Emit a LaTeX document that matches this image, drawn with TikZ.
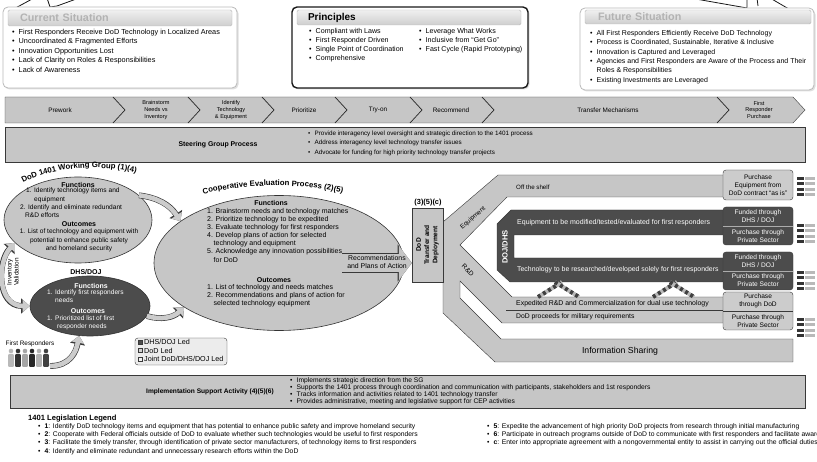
\documentclass[tikz,border=0pt]{standalone}
\usepackage{fontspec}
\setmainfont{Liberation Sans}
\usepackage{tikz}
\usetikzlibrary{shapes.geometric}
\usetikzlibrary{arrows.meta}
\usetikzlibrary{shadows}
\usetikzlibrary{decorations.text}
\usepackage{xcolor}

\newcommand{\bul}{\makebox[6.5pt][l]{\textbullet}}
\newcommand{\ind}{\hspace*{6.5pt}}

\begin{document}
\begin{tikzpicture}[x=1pt,y=-1pt,
  every node/.style={inner sep=0pt},
  calloutline/.style={draw=gray!20!black,line width=.8pt},
  sitbox/.style={draw=gray!55,line width=.8pt,rounded corners=5pt,fill=white,
    drop shadow={opacity=.25,shadow xshift=1.5pt,shadow yshift=-1.5pt}},
  prinbox/.style={sitbox,draw=gray!20!black,line width=1.4pt},
  headbar/.style={draw=gray!55,top color=gray!12,bottom color=gray!38,rounded corners=1.5pt,
    align=left,text width=200pt,font=\bfseries\fontsize{10.8}{12}\selectfont,text=gray!60},
  sitlist/.style={anchor=north west,align=left,font=\fontsize{7.3}{9.5}\selectfont},
  barlist/.style={anchor=north west,align=left,font=\fontsize{6.3}{9.5}\selectfont},
  stepbar/.style={draw=gray!45!black,fill=gray!45},
  stepline/.style={draw=gray!30!black,line width=.7pt},
  steptext/.style={align=center,font=\fontsize{5.6}{6.8}\selectfont},
  stepone/.style={font=\fontsize{6.4}{7}\selectfont},
  graybox/.style={draw=gray!45!black,fill=gray!45},
  darkband/.style={draw=black!80,fill=black!70},
  ellgray/.style={ellipse,draw=gray!40!black,fill=gray!45,line width=.6pt},
  elldark/.style={ellipse,draw=black!80,fill=black!70,line width=.6pt},
  hd/.style={font=\bfseries\fontsize{7}{7}\selectfont},
  boldlabel/.style={font=\bfseries\fontsize{6.9}{7}\selectfont},
  elltext/.style={align=left,font=\fontsize{6.6}{8.4}\selectfont},
  cooptext/.style={align=left,font=\fontsize{7}{8.1}\selectfont},
  bandtext/.style={anchor=west,font=\fontsize{7}{7}\selectfont},
  buybox/.style={draw=gray!45!black,fill=gray!40,rounded corners=3pt,minimum width=70pt,
    align=center,font=\fontsize{6.6}{8}\selectfont},
  buydark/.style={fill=black!70,text=white},
  buytext/.style={align=center,font=\fontsize{6.6}{8}\selectfont},
  keybox/.style={draw=gray!45!black,minimum size=4pt},
  keytext/.style={anchor=west,font=\fontsize{7.2}{7}\selectfont},
  lawlist/.style={anchor=north west,align=left,font=\fontsize{6.8}{8.2}\selectfont},
  arctitle/.style={decorate,decoration={text along path,text align=center,
    text={|\bfseries\fontsize{7.8}{8}\selectfont|#1}}},
  flowarrow/.style={line width=4.6pt,draw=gray!40,-{Triangle[length=7pt,width=12pt]},
    preaction={draw=gray!45!black,line width=5.8pt,-{Triangle[length=8.5pt,width=14.5pt]}}},
  flowboth/.style={line width=4.6pt,draw=gray!40,
    {Triangle[length=7pt,width=12pt]}-{Triangle[length=7pt,width=12pt]},
    preaction={draw=gray!45!black,line width=5.8pt,
    {Triangle[length=8.5pt,width=14.5pt]}-{Triangle[length=8.5pt,width=14.5pt]}}},
  bigarrow/.style={line width=18pt,draw=gray!45,-{Triangle[length=13pt,width=34pt]},
    preaction={draw=gray!45!black,line width=19.2pt,-{Triangle[length=14.2pt,width=36.5pt]}}}]
\useasboundingbox (0,0) rectangle (817,462);
\clip (0,0) rectangle (817,462);

\draw[calloutline] (10,11) -- (34,-2);
\draw[calloutline] (47,-2) -- (50,7) -- (57,6) -- (79,-2);
\draw[calloutline] (690,-2) -- (747,8) -- (747,-2);
\draw[calloutline] (757,-2) -- (758,6);
\draw[calloutline] (770,-2) -- (794,12);

\node[sitbox,minimum width=234pt,minimum height=81pt] (current) at (120,47.5) {};
\node[headbar,minimum width=224pt,minimum height=16pt] (currenthead) at (120,18) {Current Situation};
\node[sitlist] (currentlist) at (12,29) {\bul First Responders Receive DoD Technology in Localized Areas\\
  \bul Uncoordinated \& Fragmented Efforts\\ \bul Innovation Opportunities Lost\\
  \bul Lack of Clarity on Roles \& Responsibilities\\ \bul Lack of Awareness};

\node[prinbox,minimum width=236pt,minimum height=81pt] (principles) at (410,47.5) {};
\node[headbar,text=black,font=\bfseries\fontsize{10}{12}\selectfont,minimum width=224pt,minimum height=15pt,text width=202pt] (principleshead) at (409,17.5) {Principles};
\node[sitlist,font=\fontsize{7.1}{9}\selectfont] (principlesleft) at (309,28) {\bul Compliant with Laws\\
  \bul First Responder Driven\\ \bul Single Point of Coordination\\ \bul Comprehensive};
\node[sitlist,font=\fontsize{7.1}{9}\selectfont] (principlesright) at (419,28) {\bul Leverage What Works\\
  \bul Inclusive from ``Get Go''\\ \bul Fast Cycle (Rapid Prototyping)};

\node[sitbox,minimum width=234pt,minimum height=82pt] (future) at (697,49) {};
\node[headbar,minimum width=226pt,minimum height=14pt] (futurehead) at (698,17) {Future Situation};
\node[sitlist,font=\fontsize{7}{9.4}\selectfont] (futurelist) at (590,30) {\bul All First Responders Efficiently Receive DoD Technology\\
  \bul Process is Coordinated, Sustainable, Iterative \& Inclusive\\
  \bul Innovation is Captured and Leveraged\\
  \bul Agencies and First Responders are Aware of the Process and Their\\
  \ind Roles \& Responsibilities\\ \bul Existing Investments are Leveraged};

\filldraw[stepbar] (5,97) -- (793,97) -- (805,110) -- (793,123) -- (5,123) -- cycle;
\foreach \x in {113,188,262,335,410,482,717}
  \draw[stepline] (\x,97) -- ++(12,13) -- ++(-12,13);
\node[stepone] (prework) at (60,110) {Prework};
\node[steptext] (brainstorm) at (156,110) {Brainstorm\\Needs vs\\Inventory};
\node[steptext] (identify) at (231,110) {Identify\\Technology\\\& Equipment};
\node[stepone] (prioritize) at (304,110) {Prioritize};
\node[stepone] (tryon) at (378,110) {Try-on};
\node[stepone] (recommend) at (451,110) {Recommend};
\node[stepone] (transfer) at (608,110) {Transfer Mechanisms};
\node[steptext] (purchase) at (759,110) {First\\Responder\\Purchase};

\node[graybox,minimum width=800pt,minimum height=35pt] (steering) at (405,144.5) {};
\node[boldlabel] (steeringtitle) at (218,145) {Steering Group Process};
\node[barlist] (steeringlist) at (308,130.6) {\bul Provide interagency level oversight and strategic direction to the 1401 process\\
  \bul Address interagency level technology transfer issues\\
  \bul Advocate for funding for high priority technology transfer projects};

\node[ellgray,minimum width=148pt,minimum height=86pt] (workgroup) at (78,220) {};
\path[arctitle={DoD 1401 Working Group (1)(4)}] (8,194) .. controls (36,164) and (114,161) .. (154,179);
\node[hd] (wgfunctions) at (78,184.5) {Functions};
\node[elltext,anchor=north west] (wgfunctionlist) at (20,187.8) {\hspace*{6pt}1. Identify technology items and\\
  \hspace*{14pt}equipment\\2. Identify and eliminate redundant\\\hspace*{5pt}R\&D efforts};
\node[hd] (wgoutcomes) at (79,224.5) {Outcomes};
\node[elltext,align=center] (wgoutcomelist) at (79,240.5) {1. List of technology and equipment with\\
  potential to enhance public safety\\and homeland security};

\node[hd] (dhstitle) at (86,272.5) {DHS/DOJ};
\node[elldark,minimum width=120pt,minimum height=60pt] (dhs) at (90,306) {};
\node[hd,text=white] (dhsfunctions) at (91,286) {Functions};
\node[elltext,text=white,anchor=north west] (dhsfunctionlist) at (47,289.2) {1. Identify first responders\\\hspace*{8pt}needs};
\node[hd,text=white] (dhsoutcomes) at (88,311) {Outcomes};
\node[elltext,text=white,anchor=north west] (dhsoutcomelist) at (47,315.2) {1. Prioritized list of first\\\hspace*{10pt}responder needs};

\draw[flowboth] (dhs.west) .. controls (-3,306) and (-3,262) .. (workgroup.200);
\node[rotate=90,align=center,font=\fontsize{6.4}{7}\selectfont] (inventory) at (13,272) {Inventory\\Validation};

\node[ellgray,minimum width=250pt,minimum height=135pt] (coop) at (279,263) {};
\path[arctitle={Cooperative Evaluation Process (2)(5)}] (184,201) .. controls (231,181) and (315,181) .. (362,199);
\node[hd] (coopfunctions) at (271,203) {Functions};
\node[cooptext,anchor=north west] (coopfunctionlist) at (207,208.2) {1. Brainstorm needs and technology matches\\
  2. Prioritize technology to be expedited\\3. Evaluate technology for first responders\\
  4. Develop plans of action for selected\\\ind technology and equipment\\
  5. Acknowledge any innovation possibilities\\\ind for DoD};
\node[hd] (coopoutcomes) at (274,280) {Outcomes};
\node[cooptext,anchor=north west] (coopoutcomelist) at (207,284.2) {1. List of technology and needs matches\\
  2. Recommendations and plans of action for\\\ind selected technology equipment};

\draw[flowarrow] (workgroup.22) to[bend left=25] (coop.157);
\draw[flowarrow] (dhs.350) to[bend right=30] (coop.205);

\foreach \i/\c in {0/gray!55,1/black!80,2/gray!70,3/black!85,4/gray!60,5/black!75}{
  \fill[\c] (11+\i*7,351) circle (2.3);
  \fill[\c,rounded corners=1pt] (8.2+\i*7,354) rectangle ++(5.6,13);
}
\node[font=\fontsize{6.4}{7}\selectfont] (responders) at (30,344) {First Responders};
\coordinate (crowd) at (50,366);
\draw[flowarrow] (crowd) .. controls (70,366) and (76,352) .. (dhs.250);

\node[draw=gray!45!black,fill=gray!15,rounded corners=3pt,minimum width=92pt,minimum height=27pt] (legend) at (181,351.5) {};
\node[keybox,fill=black!70] (keydark) at (140,342) {};
\node[keytext] (keydarktext) at (144,342) {DHS/DOJ Led};
\node[keybox,fill=gray!35] (keydod) at (140,350.5) {};
\node[keytext] (keydodtext) at (144,350.5) {DoD Led};
\node[keybox,fill=gray!10] (keyjoint) at (140,359) {};
\node[keytext] (keyjointtext) at (144,359) {Joint DoD/DHS/DOJ Led};

\filldraw[graybox] (443,222) -- (498,175) -- (728,175) -- (728,197) -- (507,197) -- (460,245)
  -- (512,297) -- (728,297) -- (728,323) -- (502,323) -- (460,281) -- (460,298) -- (501,339)
  -- (793,339) -- (793,362) -- (495,362) -- (443,313) -- cycle;
\filldraw[darkband] (497,224) -- (511,210) -- (728,210) -- (728,235) -- (514,235) -- (514,258)
  -- (728,258) -- (728,282) -- (510,282) -- (497,270) -- cycle;
\draw[gray!45!black,line width=.4pt] (506,310.5) -- (728,310.5);
\foreach \x in {538,653}{
  \draw[line width=4pt,gray!55] (\x,297) -- ++(24,-15);
  \draw[line width=4pt,black!75,dash pattern=on 3pt off 3pt] (\x,297) -- ++(24,-15);
  \draw[line width=4pt,gray!55] (\x+17,282) -- ++(24,15);
  \draw[line width=4pt,black!75,dash pattern=on 3pt off 3pt] (\x+17,282) -- ++(24,15);
}
\node[rotate=90,text=white,font=\bfseries\fontsize{7.6}{8}\selectfont] (dojdhs) at (505,247) {DOJ/DHS};
\node[rotate=40,font=\fontsize{6.4}{7}\selectfont] (equiplabel) at (473,218) {Equipment};
\node[rotate=-45,font=\fontsize{6.6}{7}\selectfont] (rdlabel) at (468,270) {R\&D};
\node[bandtext,font=\fontsize{6.2}{7}\selectfont] (offshelf) at (516,187) {Off the shelf};
\node[bandtext,text=white] (modified) at (517,223) {Equipment to be modified/tested/evaluated for first responders};
\node[bandtext,text=white,font=\fontsize{6.9}{7}\selectfont] (researched) at (517,270) {Technology to be researched/developed solely for first responders};
\node[bandtext,font=\fontsize{6.9}{7}\selectfont] (dualuse) at (516,304) {Expedited R\&D and Commercialization for dual use technology};
\node[bandtext,font=\fontsize{6.8}{7}\selectfont] (military) at (516,317) {DoD proceeds for military requirements};
\node[font=\fontsize{8.7}{9}\selectfont] (infoshare) at (620,351) {Information Sharing};

\node[graybox,minimum width=31pt,minimum height=74pt] (dodbox) at (427.5,245) {};
\node[rotate=90,align=center,font=\bfseries\fontsize{6.6}{8.3}\selectfont] (dodlabel) at (dodbox) {DoD\\Transfer and\\Deployment};
\node[font=\bfseries\fontsize{7.4}{7}\selectfont] (dodref) at (428,203) {(3)(5)(c)};

\draw[bigarrow] ([xshift=-62pt]coop.east) -- (dodbox.west |- coop.east);
\node[align=center,font=\fontsize{6.9}{8}\selectfont] (plans) at (377,262) {Recommendations\\and Plans of Action};

\node[buybox,minimum height=30pt] (buyshelf) at (758,185) {Purchase\\Equipment from\\DoD contract ``as is''};
\node[buybox,buydark,minimum height=38pt] (buymodified) at (758,226) {};
\draw[gray!65] (buymodified.west) -- (buymodified.east);
\node[buytext,text=white] (buymodifiedtop) at (758,216) {Funded through\\DHS / DOJ};
\node[buytext,text=white] (buymodifiedbottom) at (758,236) {Purchase through\\Private Sector};
\node[buybox,buydark,minimum height=38pt] (buyresearched) at (758,271) {};
\draw[gray!65] (buyresearched.west) -- (buyresearched.east);
\node[buytext,text=white] (buyresearchedtop) at (758,261.5) {Funded through\\DHS / DOJ};
\node[buytext,text=white] (buyresearchedbottom) at (758,280.5) {Purchase through\\Private Sector};
\node[buybox,minimum height=38pt] (buydual) at (758,311) {};
\draw[gray!45!black] (buydual.west) -- (buydual.east);
\node[buytext] (buydualtop) at (758,301) {Purchase\\through DoD};
\node[buytext] (buydualbottom) at (758,321) {Purchase through\\Private Sector};

\foreach \yy in {177,224,271,318}
  \foreach \r in {0,1,2,3}{
    \fill[black!80] (797,\yy+\r*5.5) rectangle ++(7,3);
    \fill[gray!55] (805,\yy+\r*5.5) rectangle ++(10,3);
  }

\node[graybox,minimum width=795pt,minimum height=33pt] (implementation) at (407.5,391.5) {};
\node[boldlabel,font=\bfseries\fontsize{6.6}{7}\selectfont] (impltitle) at (210,392) {Implementation Support Activity (4)(5)(6)};
\node[barlist,font=\fontsize{6.7}{7}\selectfont] (impllist) at (290,377.5) {\bul Implements strategic direction from the SG\\
  \bul Supports the 1401 process through coordination and communication with participants, stakeholders and 1st responders\\
  \bul Tracks information and activities related to 1401 technology transfer\\
  \bul Provides administrative, meeting and legislative support for CEP activities};

\node[anchor=west,font=\bfseries\fontsize{7.6}{8}\selectfont] (lawtitle) at (28,419) {1401 Legislation Legend};
\node[lawlist] (lawleft) at (38,423.3) {\bul\textbf{1}: Identify DoD technology items and equipment that has potential to enhance public safety and improve homeland security\\
  \bul\textbf{2}: Cooperate with Federal officials outside of DoD to evaluate whether such technologies would be useful to first responders\\
  \bul\textbf{3}: Facilitate the timely transfer, through identification of private sector manufacturers, of technology items to first responders\\
  \bul\textbf{4}: Identify and eliminate redundant and unnecessary research efforts within the DoD};
\node[lawlist] (lawright) at (487,423.3) {\bul\textbf{5}: Expedite the advancement of high priority DoD projects from research through initial manufacturing\\
  \bul\textbf{6}: Participate in outreach programs outside of DoD to communicate with first responders and facilitate awareness\\
  \bul\textbf{c}: Enter into appropriate agreement with a nongovernmental entity to assist in carrying out the official duties};
\end{tikzpicture}
\end{document}
